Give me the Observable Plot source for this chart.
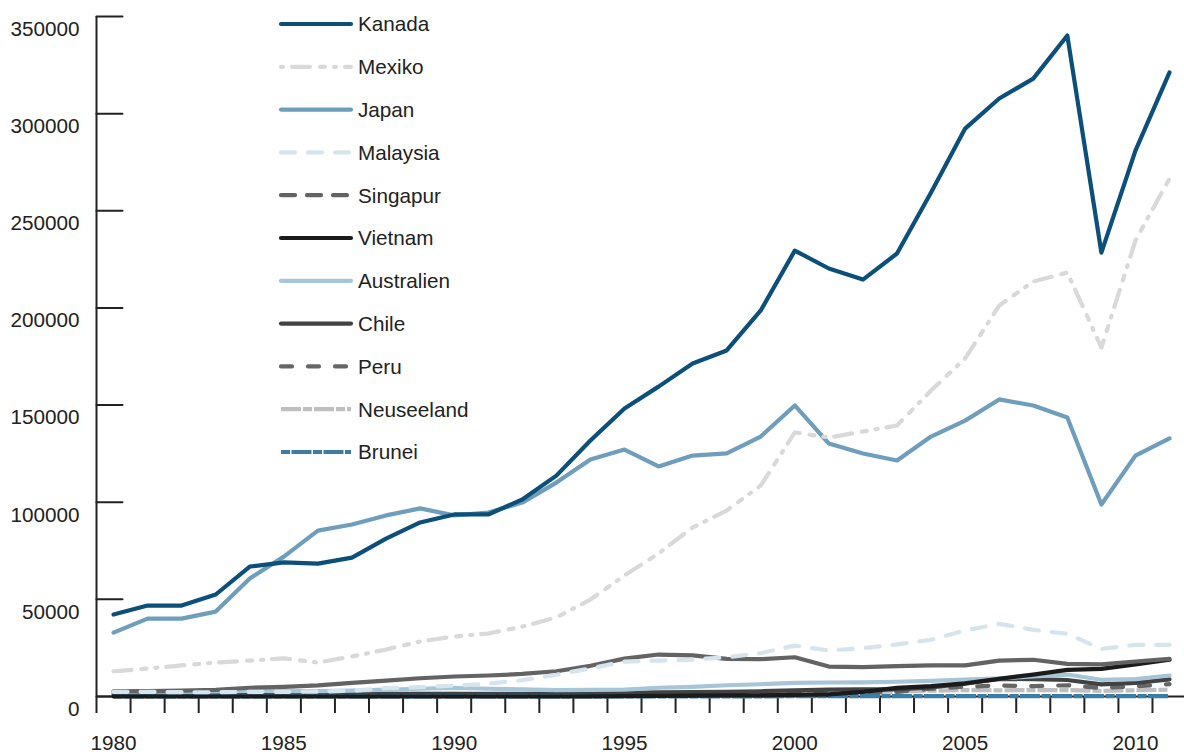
<!DOCTYPE html>
<html>
<head>
<meta charset="utf-8">
<script src="https://cdn.jsdelivr.net/npm/d3@7"></script>
<script src="https://cdn.jsdelivr.net/npm/@observablehq/plot@0.6"></script>
<style>
html, body { margin: 0; padding: 0; background: #fff; }
#wrap { position: relative; width: 1184px; height: 754px; font-family: "Liberation Sans", Arial, Helvetica, sans-serif; }
#legend { position: absolute; left: 0; top: 0; pointer-events: none; }
</style>
</head>
<body>
<div id="wrap"></div>
<script>
// ---------- DATA ----------
const years = d3.range(1980, 2012);
const countries = ["Kanada", "Mexiko", "Japan", "Malaysia", "Singapur", "Vietnam", "Australien", "Chile", "Peru", "Neuseeland", "Brunei"];

const kanada = [42200,46800,46800,52500,66900,69000,68400,71500,81300,89600,93700,93700,101400,113700,131800,148200,159500,171400,178100,198700,229500,220300,214600,228000,259400,292300,307800,318000,340200,228500,281000,321200];
const mexiko = [12900,14400,16000,17500,18500,19600,17500,20600,24200,28300,30900,32400,36000,40700,49900,62300,73600,87000,95700,108600,135900,133300,136400,139500,157500,174000,201200,213600,218200,179600,234700,266600];
const japan = [32900,40100,40100,43700,60700,72000,85400,88500,93200,96800,93200,94700,99800,110100,122000,127100,118400,124000,125100,133800,149800,130200,125100,121500,133800,142000,152900,149800,143600,98800,124000,132800];
const malaysia = [2400,2400,2200,2200,2400,2400,2500,3000,4300,4800,5600,6600,8400,11200,14500,18000,18500,19000,20200,22300,26200,23700,24900,26800,29200,34000,37400,34300,32300,24500,26600,26600];
const singapur = [2700,2800,3000,3400,4500,5000,5700,7000,8200,9400,10300,10800,11600,13000,15800,19500,21600,21200,19400,19200,20200,15400,15100,15600,16000,16000,18500,18900,16800,16500,18000,19400];
const vietnam = [0,0,0,0,0,0,0,0,0,0,0,0,0,0,50,200,300,400,550,600,800,1050,2400,4400,5300,6800,9100,11300,13700,14200,16500,18900];
const australien = [2500,2600,2400,2600,2900,2800,2800,3000,3500,4000,4400,4000,3700,3300,3400,3500,4500,5000,5800,6300,7000,7200,7300,7600,8000,8700,9300,10300,11300,8600,8900,10800];
const chile = [500,600,700,800,900,1000,900,1100,1300,1400,1300,1300,1400,1500,1700,1900,2200,2300,2400,2700,3200,3500,3700,3700,4700,6600,9100,8900,8500,6200,7000,8800];
const peru = [1400,1100,1000,1200,1300,1100,800,700,700,800,800,800,700,800,1000,1300,1200,1800,1900,1900,2000,2000,1900,2400,4000,5000,5700,5300,5800,4400,5200,6400];
const neuseeland = [800,800,700,800,1000,1000,1100,1200,1300,1400,1300,1200,1200,1300,1400,1500,1600,1700,1600,1800,2100,2200,2300,2500,3000,3300,3200,3300,3300,2900,3200,3500];
const brunei = [100,100,100,100,100,100,100,100,100,100,100,100,100,100,100,100,100,100,100,100,200,200,200,200,200,200,200,200,200,200,200,200];

const seriesValues = [kanada, mexiko, japan, malaysia, singapur, vietnam, australien, chile, peru, neuseeland, brunei];

const yTicks = [0, 50000, 100000, 150000, 200000, 250000, 300000, 350000];
const yearLabels = [1980, 1985, 1990, 1995, 2000, 2005, 2010];
const halfYearTicks = d3.range(1979.5, 2011, 1);

// ---------- STYLE ----------
const colors = ["#0c4f79", "#d9d9d9", "#6e9ebc", "#d6e4ed", "#636363", "#1b1b1b", "#a6c5d6", "#424242", "#666666", "#bfbfbf", "#3c7da6"];
// dash patterns used in the chart
const chartDash = [null, "18,10,5,9,2,9", null, "14,13", null, null, null, null, "11,16", "20,2,9,2", "9,1.5,20,1.5"];
// dash patterns used in the legend
const legendDash = [null, "2,9,18,10,5,9", null, "14,13", "14,12", null, null, null, "11,16", "20,2,9,2", "9,1.5,20,1.5"];
const caps = ["round", "round", "round", "round", "round", "round", "round", "round", "round", "butt", "butt"];
// drawing order (bottom to top)
const drawOrder = [9, 8, 7, 6, 10, 5, 4, 3, 2, 1, 0];

const fontFamily = '"Liberation Sans", Arial, Helvetica, sans-serif';
const axisColor = "#222";
const xDomain = [1979.5, 2011.44];
const yDomain = [0, 350000];

// ---------- TABLE ----------
const table = countries.map((c, k) => years.map((yr, i) => ({country: c, year: yr, value: seriesValues[k][i]})));

const tickShape = {draw(context, length) { context.moveTo(0, 0); context.lineTo(0, -length); }};

const lineMarks = drawOrder.map(k => Plot.line(table[k], {
  x: "year", y: "value",
  stroke: colors[k],
  strokeWidth: 4.2,
  strokeDasharray: chartDash[k] || undefined,
  strokeLinecap: caps[k],
  strokeLinejoin: "round"
}));

const chart = Plot.plot({
  width: 1184,
  height: 754,
  marginLeft: 96,
  marginRight: 0,
  marginTop: 16,
  marginBottom: 58,
  style: {fontFamily, fontSize: "20.7px", color: axisColor, background: "#fff", overflow: "visible"},
  x: {domain: xDomain},
  y: {domain: yDomain},
  marks: [
    Plot.ruleY([0], {stroke: axisColor, strokeWidth: 2}),
    Plot.ruleX([xDomain[0]], {y1: yDomain[0], y2: yDomain[1], stroke: axisColor, strokeWidth: 2}),
    Plot.axisX(halfYearTicks, {tickSize: 17, text: null, label: null, stroke: axisColor, strokeWidth: 2}),
    Plot.axisX(yearLabels, {tickSize: 0, tickPadding: 39, tickFormat: d => String(d), label: null, fill: axisColor, fontSize: 20.7}),
    Plot.axisY(yTicks, {tickSize: 0, tickPadding: 17, dy: 12.7, tickFormat: d => String(d), label: null, fill: axisColor, fontSize: 20.7}),
    Plot.vector(yTicks, {y: d => d, frameAnchor: "left", rotate: 90, length: 26, anchor: "start", shape: tickShape, stroke: axisColor, strokeWidth: 2}),
    ...lineMarks
  ]
});

const wrap = document.getElementById("wrap");
wrap.appendChild(chart);

// ---------- LEGEND (overlay) ----------
const legend = d3.select(wrap).append("svg")
  .attr("id", "legend")
  .attr("width", 1184)
  .attr("height", 754);

const rowTop = 24, rowStep = 42.8;
const rows = legend.selectAll("g").data(countries).join("g")
  .attr("transform", (d, i) => `translate(0,${rowTop + i * rowStep})`);

rows.append("line")
  .attr("x1", 281).attr("x2", 351).attr("y1", 0).attr("y2", 0)
  .attr("stroke", (d, i) => colors[i])
  .attr("stroke-width", 4.2)
  .attr("stroke-linecap", (d, i) => caps[i])
  .attr("stroke-dasharray", (d, i) => legendDash[i]);

rows.append("text")
  .attr("x", 358).attr("y", 0).attr("dy", "0.36em")
  .attr("font-family", fontFamily)
  .attr("font-size", 20.7)
  .attr("fill", axisColor)
  .text(d => d);
</script>
</body>
</html>
